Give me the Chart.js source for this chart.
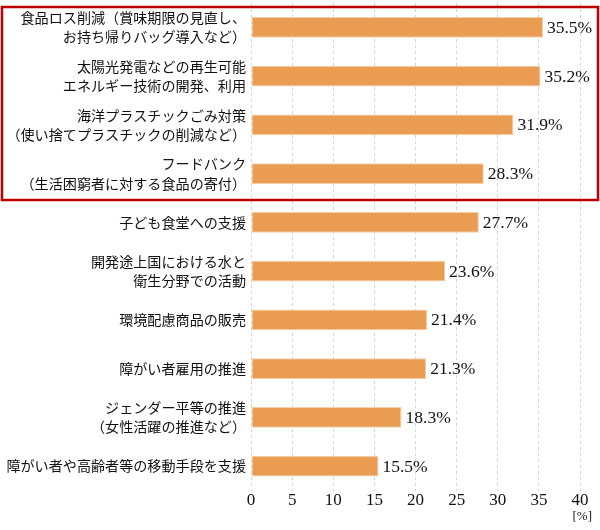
<!DOCTYPE html>
<html>
<head>
<meta charset="utf-8">
<script src="https://cdn.jsdelivr.net/npm/chart.js@4"></script>
<style>
  html, body { margin: 0; padding: 0; background: #fff; }
  #wrap { width: 600px; height: 530px; position: relative; }
</style>
</head>
<body>
<div id="wrap"><canvas id="myChart"></canvas></div>
<script>
// 項目（複数行ラベルは配列）
const categories = [
  ['食品ロス削減（賞味期限の見直し、', 'お持ち帰りバッグ導入など）'],
  ['太陽光発電などの再生可能', 'エネルギー技術の開発、利用'],
  ['海洋プラスチックごみ対策', '（使い捨てプラスチックの削減など）'],
  ['フードバンク', '（生活困窮者に対する食品の寄付）'],
  '子ども食堂への支援',
  ['開発途上国における水と', '衛生分野での活動'],
  '環境配慮商品の販売',
  '障がい者雇用の推進',
  ['ジェンダー平等の推進', '（女性活躍の推進など）'],
  '障がい者や高齢者等の移動手段を支援'
];
const values = [35.5, 35.2, 31.9, 28.3, 27.7, 23.6, 21.4, 21.3, 18.3, 15.5];
const xMax = 40;
const xStep = 5;
const unitLabel = '[%]';
const highlightCount = 4; // 赤枠で囲む上位項目数

const serif = '"Liberation Serif", "DejaVu Serif", serif';
const jp = '"Noto Sans CJK JP", sans-serif';

// 値ラベル・赤枠・単位を描くプラグイン
const extras = {
  id: 'extras',
  afterDatasetsDraw(chart) {
    const ctx = chart.ctx;
    const meta = chart.getDatasetMeta(0);
    ctx.save();
    ctx.font = '17.5px ' + serif;
    ctx.fillStyle = '#111';
    ctx.textBaseline = 'middle';
    ctx.textAlign = 'left';
    meta.data.forEach((bar, i) => {
      ctx.fillText(values[i].toFixed(1) + '%', bar.x + 4, bar.y + 1);
    });

    // 赤枠
    const yScale = chart.scales.y;
    const half = (yScale.getPixelForValue(1) - yScale.getPixelForValue(0)) / 2;
    const top = yScale.getPixelForValue(0) - half + 4;
    const bottom = yScale.getPixelForValue(highlightCount - 1) + half + 2;
    ctx.strokeStyle = '#c00000';
    ctx.lineWidth = 2.5;
    ctx.strokeRect(2, top, chart.width - 4, bottom - top);

    // 単位
    const xScale = chart.scales.x;
    ctx.font = '13px ' + serif;
    ctx.textAlign = 'right';
    ctx.fillStyle = '#111';
    ctx.fillText(unitLabel, xScale.getPixelForValue(xMax) + 12, 517);
    ctx.restore();
  }
};

const ctx = document.getElementById('myChart').getContext('2d');
const myChart = new Chart(ctx, {
  type: 'bar',
  data: {
    labels: categories,
    datasets: [{
      data: values,
      backgroundColor: '#e99c52',
      borderColor: '#f6cfa6',
      borderWidth: 1,
      borderSkipped: false,
      barPercentage: 0.43,
      categoryPercentage: 1
    }]
  },
  options: {
    indexAxis: 'y',
    responsive: true,
    maintainAspectRatio: false,
    animation: false,
    layout: { padding: { left: 0, right: 20, top: 3, bottom: 0 } },
    plugins: {
      legend: { display: false },
      tooltip: { enabled: false }
    },
    scales: {
      x: {
        min: 0,
        max: xMax,
        ticks: {
          stepSize: xStep,
          color: '#111',
          font: { family: serif, size: 17 },
          padding: 0
        },
        grid: {
          color: '#d4d4d4',
          lineWidth: 1,
          drawTicks: false
        },
        border: { display: false, dash: [3, 3] },
        afterFit(scale) { scale.height = 39.5; }
      },
      y: {
        ticks: {
          color: '#111',
          font: { family: jp, size: 14.1, lineHeight: 1.36 },
          padding: 5,
          autoSkip: false
        },
        grid: { display: false, drawTicks: false },
        border: { display: false },
        afterFit(scale) {
          scale.width = 251;
          scale.paddingTop = 0;
          scale.paddingBottom = 0;
        }
      }
    }
  },
  plugins: [extras]
});
</script>
</body>
</html>
